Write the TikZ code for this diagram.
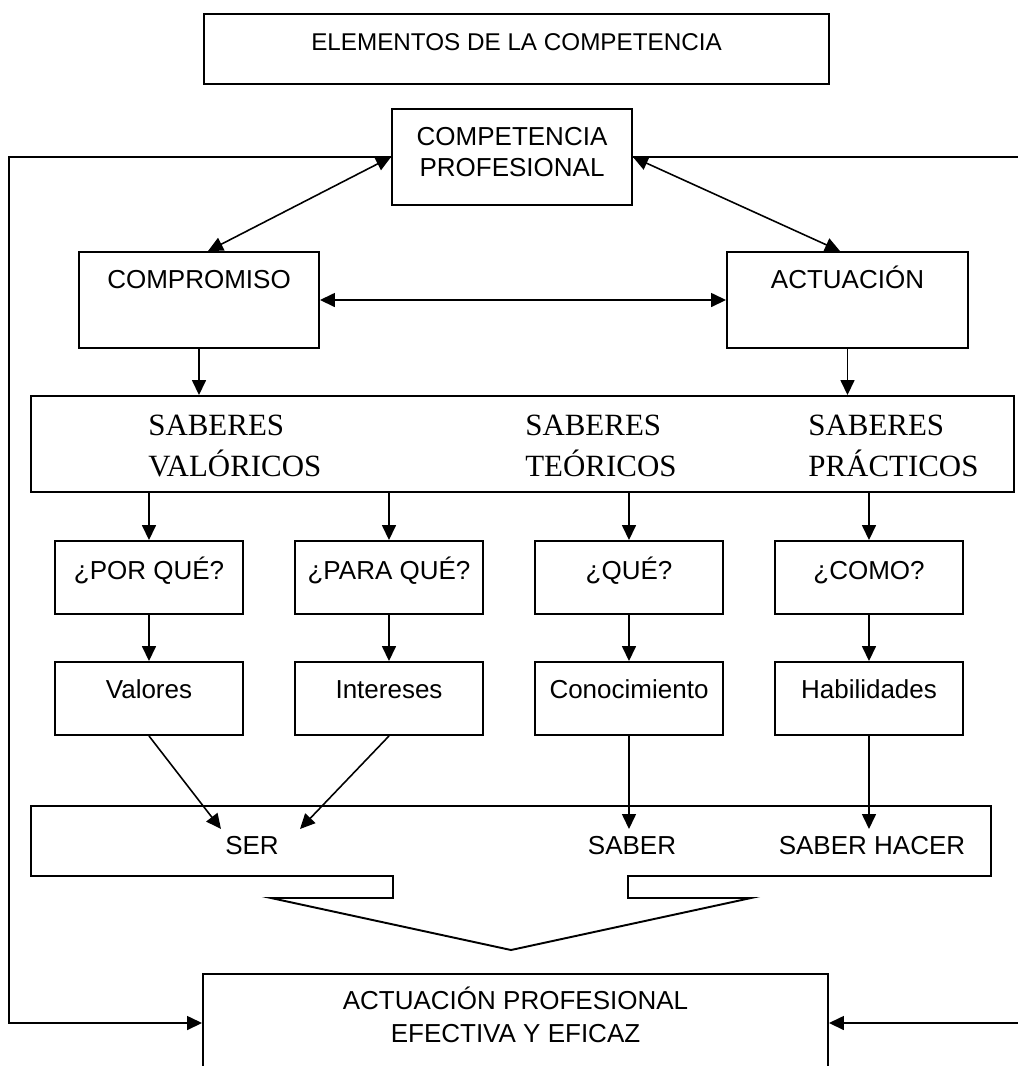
\documentclass[tikz,border=0pt]{standalone}
\usepackage{fontspec}
\setmainfont{Liberation Sans}
\newfontfamily\seriffam{Liberation Serif}
\usetikzlibrary{arrows.meta,fit}

\begin{document}
\begin{tikzpicture}[x=0.02cm,y=-0.02cm,
  box/.style={draw, line width=1.1pt, inner sep=0pt},
  outline/.style={draw, line width=1.1pt},
  txt/.style={font=\fontsize{14.8}{17}\selectfont, anchor=base, inner sep=0pt},
  stxt/.style={font=\seriffam\fontsize{17.6}{20}\selectfont, anchor=base west, inner sep=0pt},
  arr/.style={-{Triangle[length=0.3cm,width=0.28cm]}, line width=0.9pt},
  darr/.style={{Triangle[length=0.3cm,width=0.28cm]}-{Triangle[length=0.3cm,width=0.28cm]}, line width=0.9pt}]

\useasboundingbox (0,0) rectangle (1018,1066);
\fill[white] (0,0) rectangle (1018,1066);

% heading
\node[box, fit={(204,14) (829,84)}] (title) {};
\node[txt, font=\fontsize{13.8}{16}\selectfont] at (516.5,50) {ELEMENTOS DE LA COMPETENCIA};

% competence and its two components
\node[box, fit={(392,109) (632,205)}] (comp) {};
\node[txt] at (512,145) {COMPETENCIA};
\node[txt] at (512,176) {PROFESIONAL};

\node[box, fit={(79,252) (319,348)}] (compro) {};
\node[txt] at (199,288) {COMPROMISO};
\node[box, fit={(727,252) (968,348)}] (actu) {};
\node[txt] at (847.5,288) {ACTUACIÓN};

% knowledge band
\node[box, fit={(31,396) (1014,492)}] (sab) {};
\node[stxt] at (148,435) {SABERES};
\node[stxt] at (148,476) {VALÓRICOS};
\node[stxt] at (525,435) {SABERES};
\node[stxt] at (525,476) {TEÓRICOS};
\node[stxt] at (808,435) {SABERES};
\node[stxt] at (808,476) {PRÁCTICOS};

% questions
\node[box, fit={(55,541) (243,614)}] (q1) {};
\node[txt] at (149,579) {¿POR QUÉ?};
\node[box, fit={(295,541) (483,614)}] (q2) {};
\node[txt] at (389,579) {¿PARA QUÉ?};
\node[box, fit={(535,541) (723,614)}] (q3) {};
\node[txt] at (629,579) {¿QUÉ?};
\node[box, fit={(775,541) (963,614)}] (q4) {};
\node[txt] at (869,579) {¿COMO?};

% answers
\node[box, fit={(55,662) (243,735)}] (r1) {};
\node[txt] at (149,698) {Valores};
\node[box, fit={(295,662) (483,735)}] (r2) {};
\node[txt] at (389,698) {Intereses};
\node[box, fit={(535,662) (723,735)}] (r3) {};
\node[txt] at (629,698) {Conocimiento};
\node[box, fit={(775,662) (963,735)}] (r4) {};
\node[txt] at (869,698) {Habilidades};

% band with funnel
\draw[outline] (31,806) -- (991,806) -- (991,876) -- (628,876) -- (628,898)
  -- (751,898) -- (511,950) -- (271,898) -- (393,898) -- (393,876)
  -- (31,876) -- cycle;
\node[txt] (ser) at (252,854) {SER};
\node[txt] (saber) at (632,854) {SABER};
\node[txt] (hacer) at (872,854) {SABER HACER};

% result
\node[box, fit={(203,974) (828,1072)}] (final) {};
\node[txt] at (515.5,1009) {ACTUACIÓN PROFESIONAL};
\node[txt] at (515.5,1042) {EFECTIVA Y EFICAZ};

% arrow end points inside the band
\coordinate (serA) at (221,829);
\coordinate (serB) at (300,829);
\coordinate (bandtop) at (0,829);

% connectors
\draw[darr] (comp.west) -- ([xshift=0.18cm]compro.north);
\draw[darr] (comp.east) -- ([xshift=-0.15cm]actu.north);
\draw[darr] (compro.east) -- (actu.west);
\draw[arr] (compro.south) -- (compro.south |- sab.north);
\draw[arr] (actu.south) -- (actu.south |- sab.north);
\foreach \q in {q1,q2,q3,q4}
  \draw[arr] (\q.north |- sab.south) -- (\q.north);
\draw[arr] (q1.south) -- (r1.north);
\draw[arr] (q2.south) -- (r2.north);
\draw[arr] (q3.south) -- (r3.north);
\draw[arr] (q4.south) -- (r4.north);
\draw[arr] (r1.south) -- (serA);
\draw[arr] (r2.south) -- (serB);
\draw[arr] (r3.south) -- (r3.south |- bandtop);
\draw[arr] (r4.south) -- (r4.south |- bandtop);

% feedback loops
\coordinate (lc) at (9,157);
\coordinate (rc) at (1030,157);
\draw[arr] (comp.west) -- (lc) |- (final.west);
\draw[arr] (comp.east) -- (rc) |- (final.east);
\end{tikzpicture}
\end{document}
